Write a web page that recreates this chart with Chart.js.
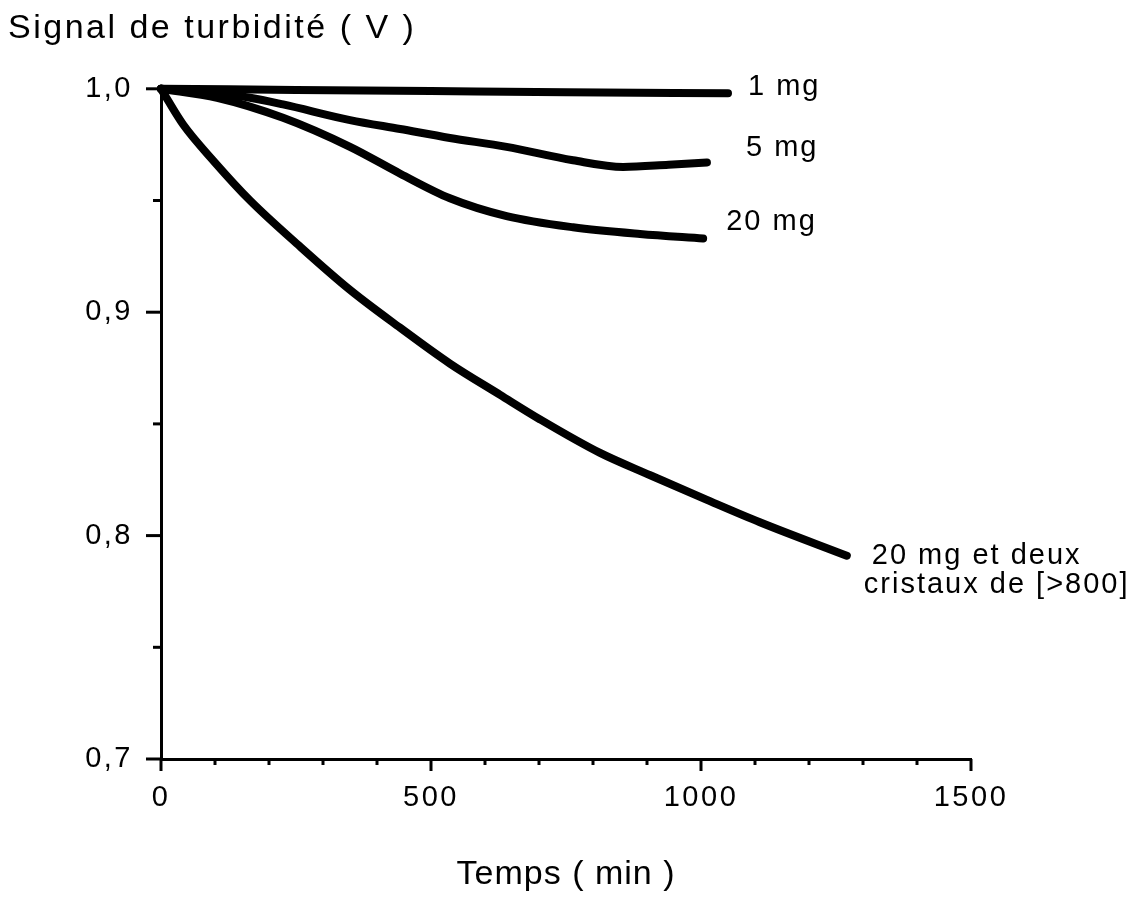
<!DOCTYPE html>
<html>
<head>
<meta charset="utf-8">
<script src="https://cdn.jsdelivr.net/npm/chart.js@4.4.1/dist/chart.umd.min.js"></script>
<style>
  body { margin: 0; background: #fff; }
</style>
</head>
<body>
<canvas id="chart" width="1146" height="923"></canvas>
<script>
// time (min) / turbidity signal (V)
const time1mg = [0, 250, 500, 750, 1050];
const sig1mg = [1.000, 0.9995, 0.999, 0.9985, 0.998];

const time5mg = [0, 100, 165, 226, 350, 443, 535, 640, 763, 856, 940, 1011];
const sig5mg = [1.000, 0.998, 0.996, 0.993, 0.986, 0.982, 0.978, 0.974, 0.968, 0.965, 0.966, 0.967];

const time20mg = [0, 104, 226, 350, 443, 535, 640, 763, 887, 1004];
const sig20mg = [1.000, 0.996, 0.987, 0.974, 0.962, 0.951, 0.943, 0.938, 0.935, 0.933];

const time20mgCrist = [0, 41, 100, 165, 257, 350, 443, 535, 628, 702, 813, 906, 1011, 1109, 1270];
const sig20mgCrist = [1.000, 0.984, 0.967, 0.950, 0.9295, 0.910, 0.893, 0.877, 0.863, 0.852, 0.837, 0.827, 0.816, 0.806, 0.791];

const seriesLabels = [['1 mg'], ['5 mg'], ['20 mg'], ['20 mg et deux', 'cristaux de [>800]']];

const xTickValues = [0, 500, 1000, 1500];
const yTickValues = [0.7, 0.8, 0.9, 1.0];

const FONT = '"Liberation Sans", Arial, Helvetica, sans-serif';

const pairs = (t, s) => t.map((v, i) => ({ x: v, y: s[i] }));

const series = [
  pairs(time1mg, sig1mg),
  pairs(time5mg, sig5mg),
  pairs(time20mg, sig20mg),
  pairs(time20mgCrist, sig20mgCrist)
];

// offsets (px) of each text line from the last point of its curve
const labelOffsets = [
  [[20, -6]],
  [[39, -15]],
  [[23, -16]],
  [[25, 0], [17, 29]]
];

const decor = {
  id: 'decor',
  beforeDraw(chart) {
    // the scanned figure has wide tracking on its text
    chart.ctx.letterSpacing = '2.5px';
  },
  afterDraw(chart) {
    const { ctx, chartArea, scales: { x, y } } = chart;
    ctx.save();
    ctx.letterSpacing = '0px';
    ctx.strokeStyle = '#000';
    ctx.lineWidth = 3;

    // tick marks, minor ones shorter
    for (let v = 0; v <= 1500; v += 100) {
      const px = x.getPixelForValue(v);
      const len = v % 500 === 0 ? 12 : 6;
      ctx.beginPath();
      ctx.moveTo(px, chartArea.bottom);
      ctx.lineTo(px, chartArea.bottom + len);
      ctx.stroke();
    }
    for (let i = 14; i <= 20; i++) {
      const py = y.getPixelForValue(i / 20);
      const len = i % 2 === 0 ? 15 : 8;
      ctx.beginPath();
      ctx.moveTo(chartArea.left, py);
      ctx.lineTo(chartArea.left - len, py);
      ctx.stroke();
    }

    // curve labels
    ctx.fillStyle = '#000';
    ctx.textBaseline = 'middle';
    ctx.textAlign = 'left';
    ctx.font = '29px ' + FONT;
    ctx.letterSpacing = '2px';
    series.forEach((pts, i) => {
      const last = pts[pts.length - 1];
      const px = x.getPixelForValue(last.x);
      const py = y.getPixelForValue(last.y);
      seriesLabels[i].forEach((line, j) => {
        const [dx, dy] = labelOffsets[i][j];
        ctx.fillText(line, px + dx, py + dy);
      });
    });

    // x axis title
    ctx.font = '34px ' + FONT;
    ctx.letterSpacing = '1px';
    ctx.textAlign = 'center';
    ctx.fillText('Temps ( min )', (chartArea.left + chartArea.right) / 2, chartArea.bottom + 116);

    ctx.restore();
    ctx.letterSpacing = '0px';
  }
};

new Chart(document.getElementById('chart'), {
  type: 'line',
  data: {
    datasets: series.map((pts) => ({
      data: pts,
      borderColor: '#000',
      borderWidth: 8,
      borderCapStyle: 'round',
      borderJoinStyle: 'round',
      pointRadius: 0,
      cubicInterpolationMode: 'monotone',
      fill: false,
      clip: false
    }))
  },
  options: {
    responsive: false,
    animation: false,
    layout: { padding: { left: 8, right: 175, top: 0, bottom: 0 } },
    plugins: {
      legend: { display: false },
      tooltip: { enabled: false },
      title: {
        display: true,
        text: 'Signal de turbidité ( V )',
        align: 'start',
        color: '#000',
        font: { family: FONT, size: 34, weight: 'normal' },
        padding: { top: 8, bottom: 40 }
      }
    },
    scales: {
      x: {
        type: 'linear',
        min: 0,
        max: 1500,
        afterBuildTicks: (scale) => { scale.ticks = xTickValues.map((v) => ({ value: v })); },
        ticks: {
          color: '#000',
          padding: 22,
          font: { family: FONT, size: 29 },
          callback: (v) => String(v)
        },
        grid: { drawOnChartArea: false, drawTicks: false },
        border: { display: true, color: '#000', width: 3 },
        afterFit: (scale) => { scale.height = 164; }
      },
      y: {
        min: 0.7,
        max: 1.0,
        afterBuildTicks: (scale) => { scale.ticks = yTickValues.map((v) => ({ value: v })); },
        ticks: {
          color: '#000',
          padding: 28,
          font: { family: FONT, size: 29 },
          callback: (v) => v.toFixed(1).replace('.', ',')
        },
        grid: { drawOnChartArea: false, drawTicks: false },
        border: { display: true, color: '#000', width: 3 },
        afterFit: (scale) => { scale.width = 153; }
      }
    }
  },
  plugins: [decor]
});
</script>
</body>
</html>
